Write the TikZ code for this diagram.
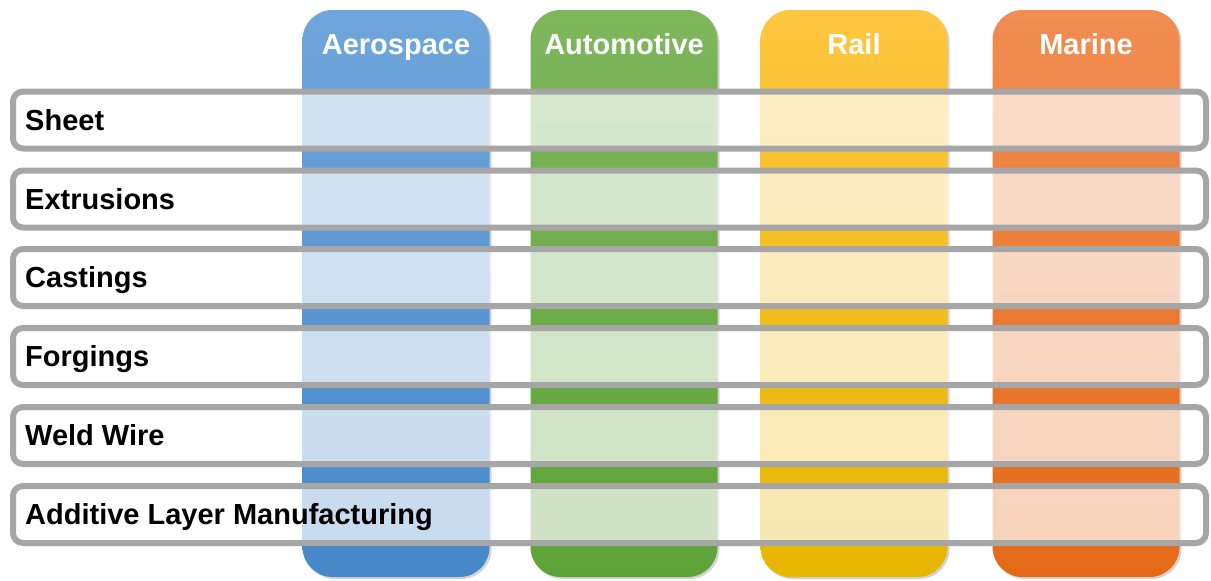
\documentclass[tikz,border=0pt]{standalone}
\usepackage{fontspec}
\setmainfont{Liberation Sans}
\usetikzlibrary{positioning,shadows}

\definecolor{aeroTop}{HTML}{6FA6DC}
\definecolor{aeroBot}{HTML}{4688C8}
\definecolor{autoTop}{HTML}{7FB65C}
\definecolor{autoBot}{HTML}{5EA338}
\definecolor{railTop}{HTML}{FFC640}
\definecolor{railBot}{HTML}{E6B600}
\definecolor{marTop}{HTML}{F18D52}
\definecolor{marBot}{HTML}{E46A17}
\definecolor{rowGray}{HTML}{A6A6A6}

\tikzset{
  sector/.style={rectangle, rounded corners=30pt, minimum width=187pt, minimum height=567pt,
    drop shadow={shadow xshift=2pt, shadow yshift=-2pt, opacity=0.35}},
  head/.style={anchor=base, text=white, font=\fontsize{29}{34}\selectfont\bfseries, inner sep=0pt},
  product/.style={rectangle, rounded corners=10pt, draw=rowGray, line width=6pt,
    fill=white, fill opacity=0.7, minimum width=1193pt, minimum height=57pt},
  prodlabel/.style={anchor=base west, font=\fontsize{29}{34}\selectfont\bfseries, inner sep=0pt}
}

\begin{document}
\begin{tikzpicture}[x=1pt,y=-1pt]
	\useasboundingbox (0,0) rectangle (1211,581);

	% industry columns
	\foreach \x/\name/\txt in {396/aero/Aerospace, 624/auto/Automotive, 854/rail/Rail, 1086/mar/Marine}{
		\node[sector, top color=\name Top, bottom color=\name Bot] (\name) at (\x,293.5) {};
		\node[head] (\name-h) at ([yshift=-45pt]\name.north) {\txt};
	}

	% product rows across the columns
	\foreach \y/\name/\txt in {120/sheet/Sheet, 199/extr/Extrusions, 277.5/cast/Castings,
		356.5/forg/Forgings, 435.5/weld/Weld Wire, 514.5/alm/Additive Layer Manufacturing}{
		\node[product] (\name) at (609.5,\y) {};
		\node[prodlabel] (\name-t) at ([xshift=15pt,yshift=-10pt]\name.west) {\txt};
	}
\end{tikzpicture}
\end{document}
